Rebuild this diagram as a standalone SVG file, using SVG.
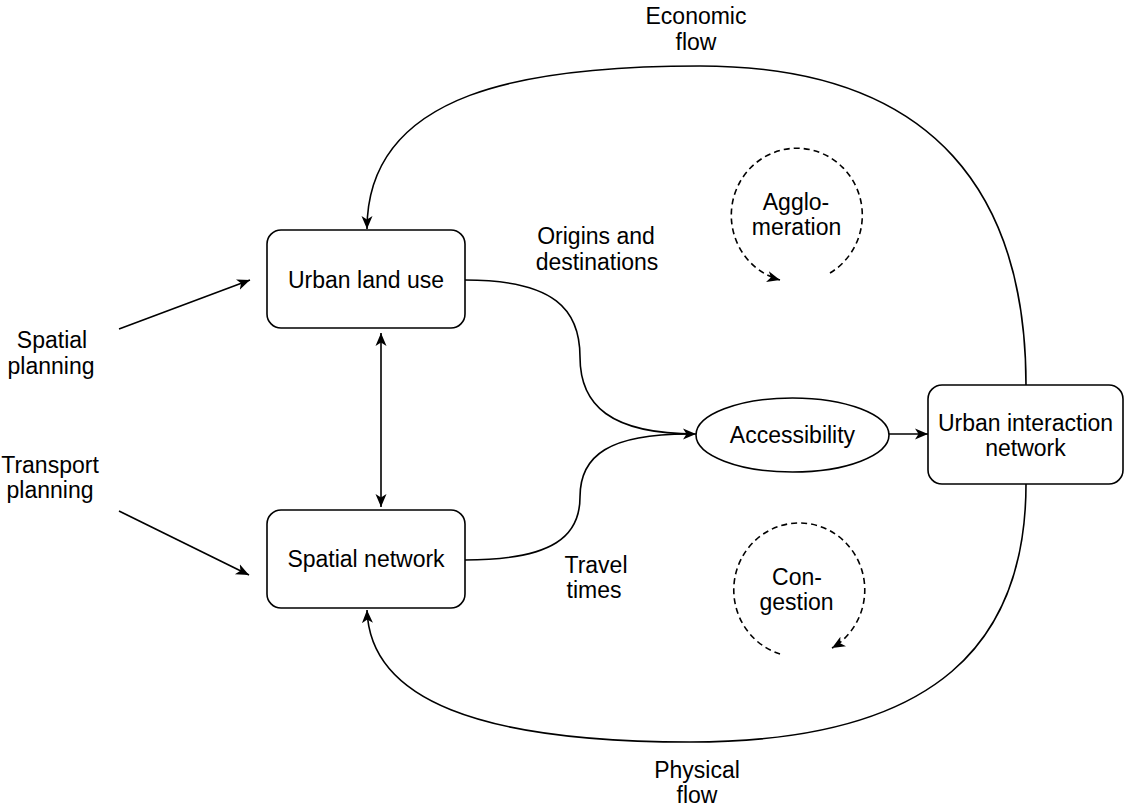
<svg xmlns="http://www.w3.org/2000/svg" width="1124" height="809" viewBox="0 0 1124 809">
<style>
  .box{fill:#fff;stroke:#000;stroke-width:1.6}
  .t{font-family:"Liberation Sans",Arial,sans-serif;font-size:23px;fill:#000;text-anchor:middle}
  .c{fill:none;stroke:#000;stroke-width:1.6}
  .d{fill:none;stroke:#000;stroke-width:1.6;stroke-dasharray:6 4}
</style>
<defs>
  <marker id="arr" viewBox="0 0 14 14" refX="13" refY="7" markerWidth="14" markerHeight="14" orient="auto-start-reverse" markerUnits="userSpaceOnUse">
    <path d="M0,1.5 L13,7 L0,12.5 L3.5,7 Z" fill="#000"/>
  </marker>
</defs>
<rect width="1124" height="809" fill="#fff"/>
<g id="connectors">
  <path class="c" d="M1026,385 C1026,200 940,66 700,66 C530,66 367,90 367,229" marker-end="url(#arr)"/>
  <path class="c" d="M1026,484 C1026,640 940,742 690,742 C480,742 370,700 367,610" marker-end="url(#arr)"/>
  <path class="c" d="M465,280 C555,280 580,310 580,357 C580,405 610,434 696,434" marker-end="url(#arr)"/>
  <path class="c" d="M465,560 C555,560 580,535 580,497 C580,455 610,434 688,434"/>
  <path class="c" d="M889,434 L928,434" marker-end="url(#arr)"/>
  <path class="c" d="M381,333 L381,507" marker-start="url(#arr)" marker-end="url(#arr)"/>
  <path class="c" d="M119,329 L250,280" marker-end="url(#arr)"/>
  <path class="c" d="M119,511 L249,575" marker-end="url(#arr)"/>
  <path class="d" d="M830,273 A65.5,67 0 1 0 780,280" marker-end="url(#arr)"/>
  <path class="d" d="M780,654 A65.5,67 0 1 1 832,648" marker-end="url(#arr)"/>
</g>
<g id="urban-land-use">
  <rect class="box" x="267" y="230" width="198" height="98" rx="14"/>
  <text class="t" x="366" y="288">Urban land use</text>
</g>
<g id="spatial-network">
  <rect class="box" x="267" y="510" width="198" height="98" rx="14"/>
  <text class="t" x="366" y="567">Spatial network</text>
</g>
<g id="accessibility">
  <ellipse class="box" cx="792.5" cy="435" rx="96.5" ry="37"/>
  <text class="t" x="792.5" y="443">Accessibility</text>
</g>
<g id="urban-interaction-network">
  <rect class="box" x="928" y="385" width="195" height="99" rx="14"/>
  <text class="t" x="1025.5" y="431">Urban interaction</text>
  <text class="t" x="1025.5" y="456">network</text>
</g>
<g id="labels">
  <text class="t" x="696" y="24">Economic</text>
  <text class="t" x="696" y="50">flow</text>
  <text class="t" x="697" y="778">Physical</text>
  <text class="t" x="697" y="803">flow</text>
  <text class="t" x="596" y="244">Origins and</text>
  <text class="t" x="597" y="270">destinations</text>
  <text class="t" x="596" y="573">Travel</text>
  <text class="t" x="594" y="598">times</text>
  <text class="t" x="796" y="210">Agglo-</text>
  <text class="t" x="796.5" y="235">meration</text>
  <text class="t" x="797" y="585">Con-</text>
  <text class="t" x="796.5" y="610">gestion</text>
  <text class="t" x="52" y="348">Spatial</text>
  <text class="t" x="51" y="374">planning</text>
  <text class="t" x="50" y="473">Transport</text>
  <text class="t" x="50" y="498">planning</text>
</g>
</svg>
